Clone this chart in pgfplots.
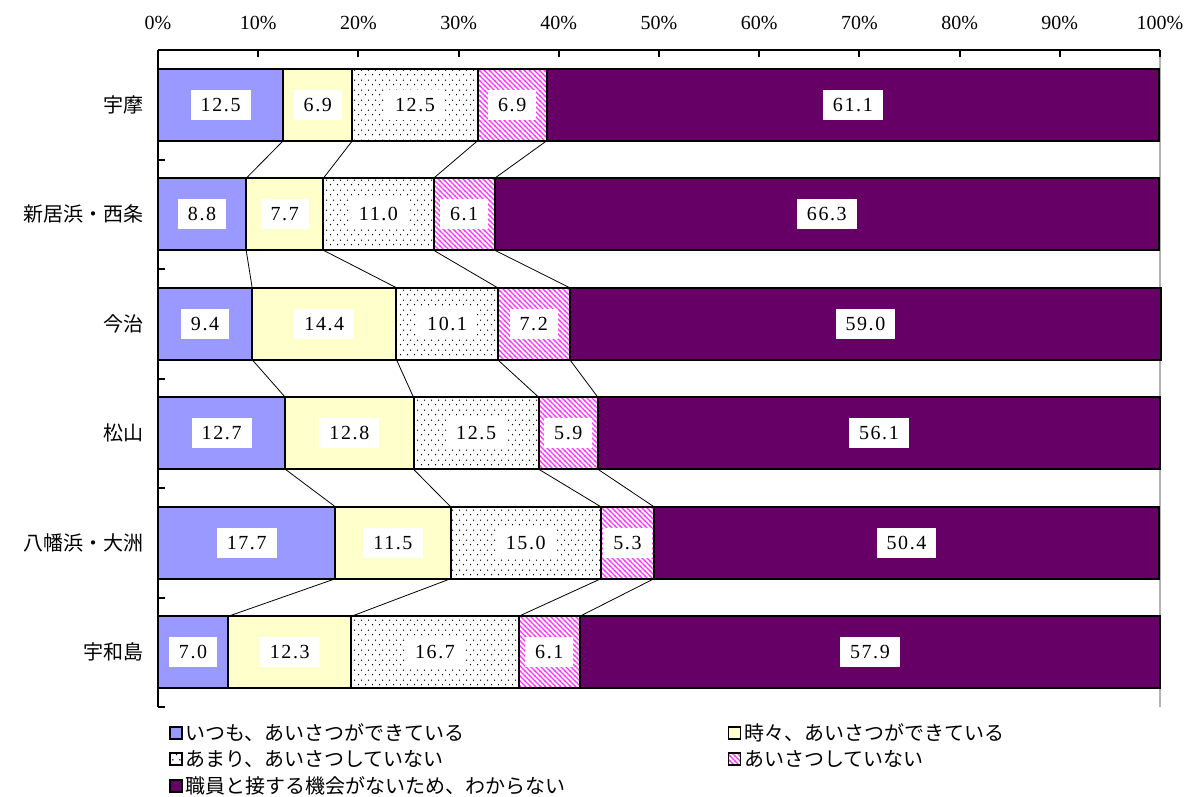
\documentclass[border=0pt]{standalone}
\usepackage{fontspec}
\setmainfont{Liberation Serif}
\newfontfamily\numfont[LetterSpace=8]{Liberation Serif}
\newfontfamily\cjk{Noto Sans CJK JP}
\usepackage{pgfplots}
\pgfplotsset{compat=1.18}
\usepackage{pgfplotstable}
\usetikzlibrary{patterns}

\definecolor{cA}{HTML}{9999FF}
\definecolor{cB}{HTML}{FFFFCC}
\definecolor{cE}{HTML}{660066}
\definecolor{cD}{HTML}{FF33FF}

\pgfdeclarepatternformonly{mystripes}{\pgfqpoint{-1pt}{-1pt}}{\pgfqpoint{4.75pt}{4.75pt}}{\pgfqpoint{3.75pt}{3.75pt}}{
  \pgfsetlinewidth{0.9pt}
  \pgfpathmoveto{\pgfqpoint{-0.5pt}{4.25pt}}
  \pgfpathlineto{\pgfqpoint{4.25pt}{-0.5pt}}
  \pgfusepath{stroke}}
\pgfdeclarepatternformonly{mydots}{\pgfqpoint{0pt}{0pt}}{\pgfqpoint{5.25pt}{7.5pt}}{\pgfqpoint{5.25pt}{7.5pt}}{
  \pgfpathcircle{\pgfqpoint{1.3pt}{1.9pt}}{0.6pt}
  \pgfpathcircle{\pgfqpoint{3.9pt}{5.6pt}}{0.6pt}
  \pgfusepath{fill}}

\pgfplotstableread{
y a b c d e
0 12.5 6.9 12.5 6.9 61.1
1 8.8 7.7 11.0 6.1 66.3
2 9.4 14.4 10.1 7.2 59.0
3 12.7 12.8 12.5 5.9 56.1
4 17.7 11.5 15.0 5.3 50.4
5 7.0 12.3 16.7 6.1 57.9
}\data

\pgfplotstableread{
x y lab
6.25 0 12.5
15.95 0 6.9
25.65 0 12.5
35.35 0 6.9
69.35 0 61.1
4.4 1 8.8
12.65 1 7.7
22.0 1 11.0
30.55 1 6.1
66.75 1 66.3
4.7 2 9.4
16.6 2 14.4
28.85 2 10.1
37.5 2 7.2
70.6 2 59.0
6.35 3 12.7
19.1 3 12.8
31.75 3 12.5
40.95 3 5.9
71.95 3 56.1
8.85 4 17.7
23.45 4 11.5
36.7 4 15.0
46.85 4 5.3
74.7 4 50.4
3.5 5 7.0
13.15 5 12.3
27.65 5 16.7
39.05 5 6.1
71.05 5 57.9
}\labels

\pgfplotsset{
  base/.style={at={(0pt,0pt)}, anchor=north west, scale only axis,
    width=751.5pt, height=492.75pt, xmin=0, xmax=100, ymin=-0.5, ymax=5.5,
    y dir=reverse, clip=false},
  sq/.style={legend image code/.code={\draw[##1, line width=1.2pt] (0pt,-4.5pt) rectangle (9pt,4.5pt);}},
}

\begin{document}
\begin{tikzpicture}
\useasboundingbox (-118.5pt,37.5pt) rectangle (777.75pt,-559.5pt);
\draw[gray!60, line width=0.8pt] (751.5pt,0pt) -- (751.5pt,-492.75pt);
\begin{axis}[base,
  xbar stacked, bar width=0.657,
  axis x line*=top, axis y line*=left,
  axis line style={line width=1.5pt, black},
  tick align=inside, major tick length=5pt,
  tick style={line width=1.5pt, black},
  xtick={0,10,...,100},
  xticklabel={\pgfmathprintnumber{\tick}\%},
  /pgf/number format/assume math mode=true,
  xticklabel style={font=\fontsize{15}{18}\selectfont, yshift=12pt},
  ytick={-0.5,0.5,...,5.5}, yticklabels={},
  extra y ticks={0,1,2,3,4,5},
  extra y tick labels={宇摩,新居浜・西条,今治,松山,八幡浜・大洲,宇和島},
  extra y tick style={major tick length=0pt, yticklabel style={font=\cjk\fontsize{15}{18}\selectfont, xshift=-7pt}},
  legend columns=2,
  legend cell align=left,
  legend style={at={(0,0)}, anchor=north west, xshift=8pt, yshift=-10pt,
    draw=none, fill=none, inner sep=0pt, font=\cjk\fontsize{15}{18}\selectfont,
    /tikz/every even column/.append style={column sep=120pt}, row sep=2pt},
]
\addplot[sq, fill=cA, draw=black, line width=1.5pt] table[x=a, y=y] {\data};
\addlegendentry{いつも、あいさつができている}
\addplot[sq, fill=cB, draw=black, line width=1.5pt] table[x=b, y=y] {\data};
\addlegendentry{時々、あいさつができている}
\addplot[sq, draw=black, line width=1.5pt, pattern=mydots, pattern color=black] table[x=c, y=y] {\data};
\addlegendentry{あまり、あいさつしていない}
\addplot[sq, draw=black, line width=1.5pt, pattern=mystripes, pattern color=cD] table[x=d, y=y] {\data};
\addlegendentry{あいさつしていない}
\addplot[sq, fill=cE, draw=black, line width=1.5pt] table[x=e, y=y] {\data};
\addlegendentry{職員と接する機会がないため、わからない}
\end{axis}
\begin{axis}[base, hide axis]
\addplot[black, line width=0.6pt, mark=none] coordinates {(12.5,0.3285)(8.8,0.6715)(8.8,1.3285)(9.4,1.6715)(9.4,2.3285)(12.7,2.6715)(12.7,3.3285)(17.7,3.6715)(17.7,4.3285)(7.0,4.6715)};
\addplot[black, line width=0.6pt, mark=none] coordinates {(19.4,0.3285)(16.5,0.6715)(16.5,1.3285)(23.8,1.6715)(23.8,2.3285)(25.5,2.6715)(25.5,3.3285)(29.2,3.6715)(29.2,4.3285)(19.3,4.6715)};
\addplot[black, line width=0.6pt, mark=none] coordinates {(31.9,0.3285)(27.5,0.6715)(27.5,1.3285)(33.9,1.6715)(33.9,2.3285)(38.0,2.6715)(38.0,3.3285)(44.2,3.6715)(44.2,4.3285)(36.0,4.6715)};
\addplot[black, line width=0.6pt, mark=none] coordinates {(38.8,0.3285)(33.6,0.6715)(33.6,1.3285)(41.1,1.6715)(41.1,2.3285)(43.9,2.6715)(43.9,3.3285)(49.5,3.6715)(49.5,4.3285)(42.1,4.6715)};
\addplot[draw=none, mark=none, nodes near coords, nodes near coords align=center,
  point meta=explicit symbolic,
  every node near coord/.append style={fill=white, text=black, font=\numfont\fontsize{15}{18}\selectfont,
    inner xsep=7.5pt, inner ysep=5pt, text height=11pt, text depth=1.5pt}]
  table[x=x, y=y, meta=lab] {\labels};
\end{axis}
\end{tikzpicture}
\end{document}
